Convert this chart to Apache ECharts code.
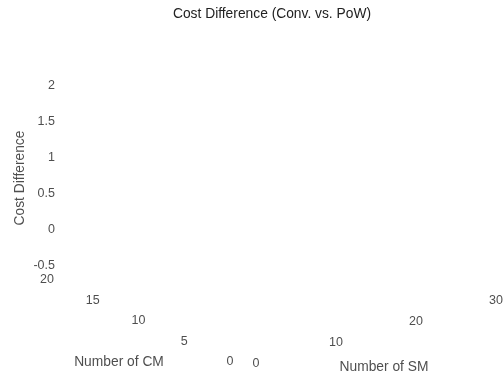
<!DOCTYPE html>
<html>
<head>
<meta charset="utf-8">
<script src="https://cdn.jsdelivr.net/npm/echarts@6/dist/echarts.min.js"></script>
<style>
  html, body { margin: 0; padding: 0; background: #fff; }
  #main { width: 504px; height: 376px; }
</style>
</head>
<body>
<div id="main"></div>
<script>
// tick values of the three axes (empty 3-D plot)
var smTicks = [0, 10, 20, 30];
var cmTicks = [0, 5, 10, 15, 20];
var zTicks = [-0.5, 0, 0.5, 1, 1.5, 2];
var zMin = -0.5, cmMax = 20;

// simple oblique projection of (SM, CM, cost) into page pixels
var origin = [243, 363];
var smVec = [8.0, -2.13];
var cmVec = [-9.15, -4.1];
var zPx = 72;
function proj(sm, cm, z) {
    return [origin[0] + sm * smVec[0] + cm * cmVec[0],
            origin[1] + sm * smVec[1] + cm * cmVec[1] - (z - zMin) * zPx];
}
function shift(p, d) { return [p[0] + d[0], p[1] + d[1]]; }

var txt = '#222';
var font = 'Liberation Sans, Arial, sans-serif';

var smData = smTicks.map(function (v) { return { name: String(v), value: shift(proj(v, 0, zMin), [13, 1]) }; });
var cmData = cmTicks.map(function (v) { return { name: String(v), value: shift(proj(0, v, zMin), [-13, -1]) }; });
var zData = zTicks.map(function (v) { return { name: String(v), value: shift(proj(0, cmMax, v), [-5, -15.5]) }; });

function labelSeries(data, extra) {
    var label = {
        show: true, position: 'inside', formatter: '{b}',
        color: txt, fontFamily: font, fontSize: 12.5
    };
    for (var k in extra) label[k] = extra[k];
    return {
        type: 'scatter', symbolSize: 1, silent: true,
        itemStyle: { color: 'rgba(0,0,0,0)' },
        label: label, data: data
    };
}

var chart = echarts.init(document.getElementById('main'));
var option = {
    animation: false,
    title: {
        text: 'Cost Difference (Conv. vs. PoW)',
        left: 267, top: 2, textAlign: 'center',
        textStyle: { color: txt, fontFamily: font, fontSize: 13.8, fontWeight: 'normal' }
    },
    grid: { left: 0, right: 0, top: 0, bottom: 0 },
    xAxis: { type: 'value', min: 0, max: 504, show: false },
    yAxis: { type: 'value', min: 0, max: 376, inverse: true, show: false },
    series: [
        labelSeries(smData, {}),
        labelSeries(cmData, {}),
        labelSeries(zData, { align: 'right' }),
        labelSeries([
            { name: 'Number of SM', value: shift(proj(15, 0, zMin), [21, 36]) },
            { name: 'Number of CM', value: shift(proj(0, 10, zMin), [-32.5, 40]) }
        ], { fontSize: 13.8 }),
        labelSeries([
            { name: 'Cost Difference', value: shift(proj(0, cmMax, 0.75), [-40, -13]) }
        ], { fontSize: 13.8, rotate: 90 })
    ]
};
chart.setOption(option);
</script>
</body>
</html>
